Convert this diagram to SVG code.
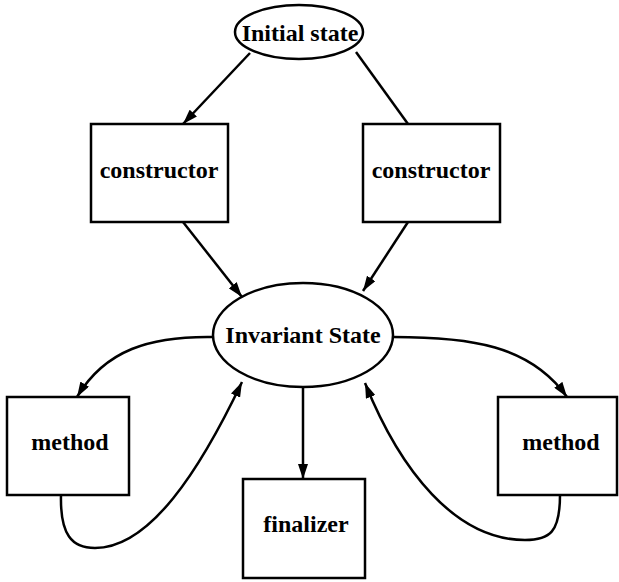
<svg xmlns="http://www.w3.org/2000/svg" width="619" height="582" viewBox="0 0 619 582">
<style>
.n{fill:#fff;stroke:#000;stroke-width:2.5}
.t{font-family:"Liberation Serif","Times New Roman",serif;font-weight:bold;font-size:24px;text-anchor:middle;fill:#000}
.e{fill:none;stroke:#000;stroke-width:2.5}
</style>
<defs>
<marker id="a" viewBox="0 0 15 10" markerWidth="15" markerHeight="10" refX="15" refY="5" orient="auto" markerUnits="userSpaceOnUse">
<path d="M0,0 L15,5 L0,10 z" fill="#000"/>
</marker>
</defs>
<rect width="619" height="582" fill="#fff"/>
<g id="connectors">
<path class="e" d="M250,53 L183,124" marker-end="url(#a)"/>
<path class="e" d="M356,52 L408,124"/>
<path class="e" d="M183,222 L242,297" marker-end="url(#a)"/>
<path class="e" d="M408,222 L363,291" marker-end="url(#a)"/>
<path class="e" d="M213,337 C150,336 105,350 77,397" marker-end="url(#a)"/>
<path class="e" d="M61,495 C60,535 72,548 95,548 C150,548 200,470 242,382" marker-end="url(#a)"/>
<path class="e" d="M393,337 C470,337 530,345 567,397" marker-end="url(#a)"/>
<path class="e" d="M560,495 C560,532 550,540 525,540 C455,540 400,470 365,383" marker-end="url(#a)"/>
<path class="e" d="M303,388 L303,479" marker-end="url(#a)"/>
</g>
<g id="initial">
<ellipse class="n" cx="299" cy="32" rx="64" ry="27"/>
<text class="t" x="300" y="41">Initial state</text>
</g>
<g id="constructor1">
<rect class="n" x="91" y="124" width="137" height="98"/>
<text class="t" x="159" y="178">constructor</text>
</g>
<g id="constructor2">
<rect class="n" x="363" y="124" width="137" height="98"/>
<text class="t" x="431" y="178">constructor</text>
</g>
<g id="invariant">
<ellipse class="n" cx="303" cy="335" rx="90" ry="52"/>
<text class="t" x="303" y="343">Invariant State</text>
</g>
<g id="method1">
<rect class="n" x="7" y="397" width="122" height="98"/>
<text class="t" x="70" y="450">method</text>
</g>
<g id="method2">
<rect class="n" x="498" y="397" width="119" height="98"/>
<text class="t" x="561" y="450">method</text>
</g>
<g id="finalizer">
<rect class="n" x="243" y="479" width="122" height="99"/>
<text class="t" x="306" y="532">finalizer</text>
</g>
</svg>
